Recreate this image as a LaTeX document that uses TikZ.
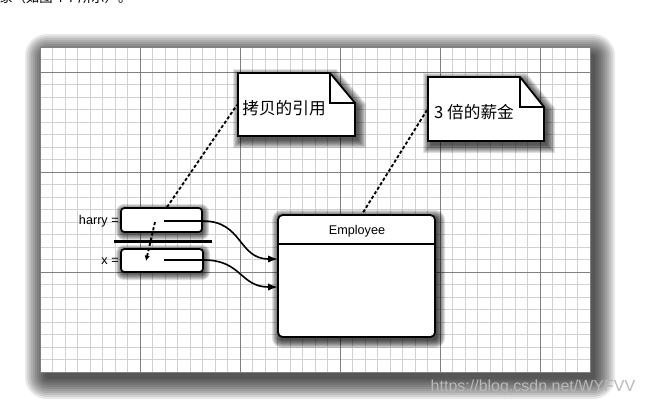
\documentclass[tikz,border=0pt]{standalone}
\usepackage{fontspec}
\newfontfamily\lsans{Liberation Sans}
\newfontfamily\cjk{Noto Sans CJK SC}
\usetikzlibrary{fit,calc,arrows.meta}
% soft rectangular shadow: x1 y1 x2 y2 list dx dy opacity
\newcommand\mysoftshade[8]{%
  \foreach \r in {#5}{%
    \fill[black,opacity=#8,rounded corners={(\r+2)*0.75pt}] ({#1-\r+#6},{#2-\r+#7}) rectangle ({#3+\r+#6},{#4+\r+#7});
  }}
% note shadow: x1 y1 fx fy x2 y2
\newcommand\mynoteshade[6]{%
  \foreach \r in {8,7,...,0}{%
    \fill[black,opacity=0.11] ({#1-\r+3},{#2-\r+4}) -- ({#3+0.4*\r+3},{#2-\r+4}) -- ({#5+\r+3},{#4-0.4*\r+4}) -- ({#5+\r+3},{#6+\r+4}) -- ({#1-\r+3},{#6+\r+4}) -- cycle;
  }}
\newcommand\mynote[6]{%
  \filldraw[boxline,fill=white,line join=miter] (#1,#2) -- (#3,#2) -- (#5,#4) -- (#5,#6) -- (#1,#6) -- cycle;
  \draw[boxline] (#3,#2) -- (#3,#4) -- (#5,#4);}
\begin{document}
\begin{tikzpicture}[x=0.75pt,y=-0.75pt,
  minorline/.style={draw=black!18,line width=0.55pt},
  majorline/.style={draw=black!50,line width=0.75pt},
  boxline/.style={line width=1.3pt,draw=black},
  refbox/.style={boxline,fill=white,rounded corners=2.5pt,inner sep=0pt},
  lbl/.style={font=\lsans\fontsize{9.5pt}{11pt}\selectfont,inner sep=0pt},
  notetext/.style={font=\cjk\fontsize{12.5pt}{14pt}\selectfont,inner sep=0pt},
  ptr/.style={line width=1.2pt,-{Latex[length=7.5pt,width=5.5pt]}},
  dashref/.style={line width=1.4pt,dash pattern=on 2.4pt off 1.6pt},
]
\clip (0,0) rectangle (645,405);
\fill[white] (0,0) rectangle (645,405);
% cropped text at top
\node[font=\cjk\fontsize{10pt}{12pt}\selectfont, anchor=west, inner sep=0pt] (toptext) at (-1,-3) {象（如图 4-7 所示）。};
% grid sheet
\mysoftshade{40}{47}{590}{372}{20,18,...,0}{5}{7}{0.09}
\fill[white] (40,47) rectangle (590,372);
\foreach \k in {0,...,44} \draw[minorline] ({40+12.5*\k},47) -- ({40+12.5*\k},372);
\foreach \k in {0,...,26} \draw[minorline] (40,{47+12.5*\k}) -- (590,{47+12.5*\k});
\foreach \xx in {140,240,340,440,540} \draw[majorline] (\xx,47) -- (\xx,372);
\foreach \yy in {72,172,272} \draw[majorline] (40,\yy) -- (590,\yy);
\draw[black!50,line width=0.6pt] (40,47) rectangle (590,372);
% notes
\mynoteshade{238}{73}{330}{103}{355}{136}
\mynote{238}{73}{330}{103}{355}{136}
\node[notetext] (n1) at (284,108) {拷贝的引用};
\mynoteshade{428}{77}{520}{107}{544}{141}
\mynote{428}{77}{520}{107}{544}{141}
\node[notetext] (n2) at (474,112) {3 倍的薪金};
\coordinate (n1a) at (237,105);
\coordinate (n2a) at (427,110);
% reference boxes
\mysoftshade{121}{208}{202}{232}{6,5,...,0}{1}{2}{0.13}
\node[refbox, fit={(121,208)(202,232)}] (harry) {};
\mysoftshade{121}{249}{203}{272}{6,5,...,0}{1}{2}{0.13}
\node[refbox, fit={(121,249)(203,272)}] (xbox) {};
\node[lbl, anchor=east] (harrylbl) at (119,221) {harry =};
\node[lbl, anchor=east] (xlbl) at (119,261) {x =};
% Employee object
\mysoftshade{278}{215}{435}{337}{8,7,...,0}{2}{3}{0.12}
\node[refbox, rounded corners=3.5pt, fit={(278,215)(435,337)}] (emp) {};
\coordinate (sepy) at (0,244);
\draw[line width=0.9pt] (emp.west |- sepy) -- (emp.east |- sepy);
\node[lbl] (emptitle) at (357,231) {Employee};
% dashed annotations
\draw[dashref] ($(harry.north)+(5.5,0)$) -- (n1a);
\draw[dashref] (n2a) -- ($(emp.north)+(5.5,0)$);
\coordinate (c1) at (155,222);
\coordinate (c2) at (146,261);
\draw[dashref,-{Latex[length=4pt,width=4pt]}] (c1) -- (c2);
% separating bar
\node[fill=black, inner sep=0pt, fit={(114,239.5)(212,243)}] (bar) {};
% pointers
\coordinate (hs) at (164,221);
\coordinate (xs) at (164,260);
\coordinate (e1) at (278,259);
\coordinate (e2) at (278,287);
\draw[ptr] (hs) -- (harry.east |- hs) .. controls +(40,0) and +(-40,0) .. (e1);
\draw[ptr] (xs) -- (xbox.east |- xs) .. controls +(38,0) and +(-38,0) .. (e2);
% watermark
\node[font=\lsans\fontsize{12pt}{14pt}\selectfont, text=black!28, inner sep=0pt] (wm) at (533,387) {https://blog.csdn.net/WYFVV};
\end{tikzpicture}
\end{document}
